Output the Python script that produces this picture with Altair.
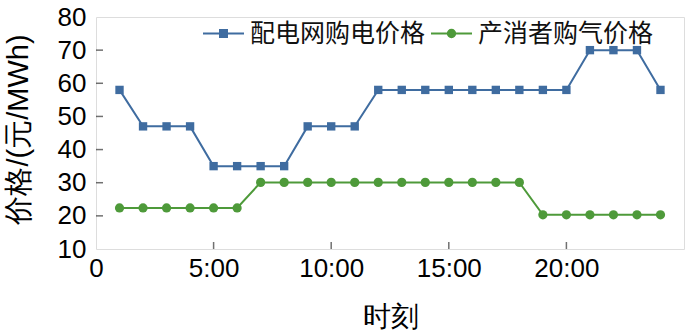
import altair as alt
import pandas as pd

hours = list(range(1, 25))
grid_price = [58, 47, 47, 47, 35, 35, 35, 35, 47, 47, 47, 58, 58, 58, 58, 58, 58, 58, 58, 58, 70, 70, 70, 58]
gas_price = [22.4] * 6 + [30.1] * 12 + [20.3] * 6
series_names = ["配电网购电价格", "产消者购气价格"]
colors = ["#3F6CA0", "#4E9A3A"]
x_ticks = [0, 5, 10, 15, 20]
y_ticks = [10, 20, 30, 40, 50, 60, 70, 80]
inner_y_ticks = [20, 30, 40, 50, 60, 70]
inner_x_ticks = [5, 10, 15, 20]

df = pd.DataFrame({
    "hour": hours * 2,
    "price": grid_price + gas_price,
    "series": [series_names[0]] * 24 + [series_names[1]] * 24,
})

FONT = "Liberation Sans, Noto Sans CJK SC"
xs = alt.Scale(domain=[0, 25], nice=False)
ys = alt.Scale(domain=[10, 80], nice=False)

x_axis = alt.Axis(
    values=x_ticks, labelExpr="datum.value == 0 ? '0' : datum.value + ':00'",
    title="时刻", tickSize=0, domain=False, grid=False, labelPadding=6,
    labelFontSize=26, titleFontSize=28, titlePadding=22, labelFlush=False, titleFontWeight="normal")
y_axis = alt.Axis(
    values=y_ticks, title="价格/(元/MWh)", tickSize=0, domain=False, grid=False,
    labelPadding=10, labelFontSize=26, titleFontSize=29, titlePadding=24, titleY=112,
    titleFontWeight="normal")
x_enc = alt.X("hour:Q", scale=xs, axis=x_axis)
y_enc = alt.Y("price:Q", scale=ys, axis=y_axis)
color_enc = alt.Color("series:N", scale=alt.Scale(domain=series_names, range=colors), legend=None)

base = alt.Chart(df)
lines = base.mark_line(strokeWidth=2).encode(x=x_enc, y=y_enc, color=color_enc)
sq = base.transform_filter(alt.datum.series == series_names[0]).mark_point(
    shape="square", filled=True, size=70, opacity=1).encode(x=x_enc, y=y_enc, color=color_enc)
ci = base.transform_filter(alt.datum.series == series_names[1]).mark_point(
    shape="circle", filled=True, size=85, opacity=1).encode(x=x_enc, y=y_enc, color=color_enc)

sq_path = "M-1,0H1M-0.17,-0.17H0.17V0.17H-0.17Z"
ci_path = "M-1,0H1M0.18,0A0.18,0.18,0,1,1,-0.18,0A0.18,0.18,0,1,1,0.18,0Z"


def legend_layer(i, path, lx):
    lg = alt.Legend(
        orient="none", legendX=lx, legendY=-5, title=None, direction="horizontal",
        labelFontSize=25, labelOffset=5, padding=0, labelLimit=0,
        symbolSize=1681, symbolStrokeWidth=2, symbolOpacity=1,
        labelFont=FONT, labelColor="#111")
    return base.transform_filter("false").mark_point(
        filled=False, fill=colors[i], stroke=colors[i], strokeWidth=2).encode(
        shape=alt.Shape("series:N", scale=alt.Scale(domain=[series_names[i]], range=[path]), legend=lg))


leg1 = legend_layer(0, sq_path, 106)
leg2 = legend_layer(1, ci_path, 334)

ytk = alt.Chart(pd.DataFrame({"price": inner_y_ticks})).mark_tick(
    orient="horizontal", size=7, thickness=1.5, color="#333").encode(y=y_enc, x=alt.value(3.5))
xtk = alt.Chart(alt.Data(values=[{"hour": v} for v in inner_x_ticks])).mark_tick(
    orient="vertical", size=7, thickness=1.5, color="#333").encode(x=x_enc, y=alt.value(228.5))

chart = alt.layer(ytk, xtk, lines, sq, ci, leg1, leg2).resolve_scale(shape="independent").properties(
    width=588, height=232,
    autosize=alt.AutoSizeParams(type="none"),
    padding={"left": 96, "top": 17, "right": 11, "bottom": 87},
).configure_view(stroke="#333", strokeWidth=1.5).configure_axis(
    labelFont=FONT, titleFont=FONT, labelColor="#111", titleColor="#111"
).configure(background="white")

chart.save("out.html", embed_options={"renderer": "svg", "actions": False})
